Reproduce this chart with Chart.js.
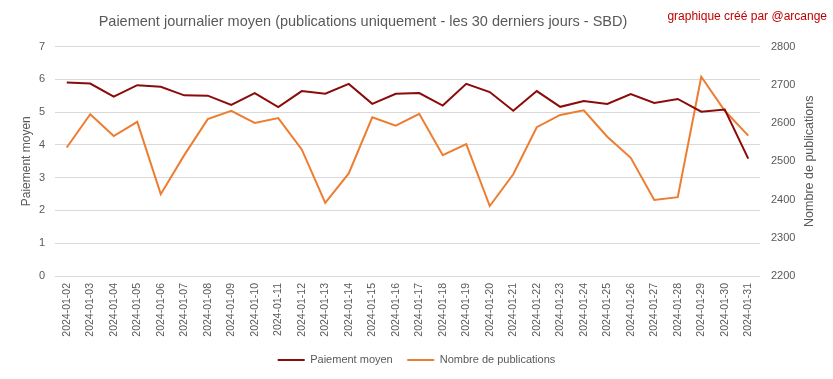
<!DOCTYPE html>
<html>
<head>
<meta charset="utf-8">
<script src="https://cdn.jsdelivr.net/npm/chart.js@4/dist/chart.umd.min.js"></script>
<style>
  html, body { margin:0; padding:0; background:#fff; }
  #wrap { position:relative; width:833px; height:379px; }
  #title { position:absolute; left:0; width:726px; top:13px; text-align:center;
           font-family:"Liberation Sans", Arial, sans-serif; font-size:14.5px; color:#595959; }
  #credit { position:absolute; right:6px; top:9px;
           font-family:"Liberation Sans", Arial, sans-serif; font-size:12px; color:#C00000; }
</style>
</head>
<body>
<div id="wrap">
  <canvas id="c" width="833" height="379"></canvas>
  <div id="title">Paiement journalier moyen (publications uniquement - les 30 derniers jours - SBD)</div>
  <div id="credit">graphique créé par @arcange</div>
</div>
<script>
const categories = ["2024-01-02","2024-01-03","2024-01-04","2024-01-05","2024-01-06","2024-01-07","2024-01-08","2024-01-09","2024-01-10","2024-01-11","2024-01-12","2024-01-13","2024-01-14","2024-01-15","2024-01-16","2024-01-17","2024-01-18","2024-01-19","2024-01-20","2024-01-21","2024-01-22","2024-01-23","2024-01-24","2024-01-25","2024-01-26","2024-01-27","2024-01-28","2024-01-29","2024-01-30","2024-01-31"];
const paiementMoyen = [5.90,5.87,5.47,5.82,5.77,5.51,5.50,5.22,5.58,5.15,5.64,5.56,5.86,5.25,5.56,5.58,5.20,5.86,5.61,5.04,5.64,5.16,5.34,5.25,5.55,5.28,5.40,5.01,5.08,3.58];
const nombrePublications = [2536,2623,2566,2603,2414,2516,2610,2632,2600,2613,2531,2391,2468,2615,2593,2624,2516,2545,2383,2466,2589,2621,2633,2564,2509,2399,2406,2721,2632,2567];
const leftTicks = {min:0, max:7, step:1};
const rightTicks = {min:2200, max:2800, step:100};
const rightTitle = 'Nombre de publications';

const FONT = "'Liberation Sans', Arial, sans-serif";
const GRAY = "#595959";

const rightTitlePlugin = {
  id: 'rightTitle',
  afterDraw(chart) {
    const ctx = chart.ctx;
    const a = chart.chartArea;
    ctx.save();
    ctx.translate(810, (a.top + a.bottom) / 2);
    ctx.rotate(-Math.PI / 2);
    ctx.font = "12.5px " + FONT;
    ctx.fillStyle = GRAY;
    ctx.textAlign = 'center';
    ctx.textBaseline = 'middle';
    ctx.fillText(rightTitle, 0, 0);
    ctx.restore();
  }
};

new Chart(document.getElementById('c'), {
  type: 'line',
  data: {
    labels: categories,
    datasets: [
      { label: 'Paiement moyen', data: paiementMoyen, yAxisID: 'y',
        borderColor: '#8B0A0A', backgroundColor: '#8B0A0A', borderWidth: 2,
        pointRadius: 0, tension: 0 },
      { label: 'Nombre de publications', data: nombrePublications, yAxisID: 'y1',
        borderColor: '#ED7D31', backgroundColor: '#ED7D31', borderWidth: 2,
        pointRadius: 0, tension: 0 }
    ]
  },
  plugins: [rightTitlePlugin],
  options: {
    responsive: false,
    animation: false,
    devicePixelRatio: 1,
    layout: { padding: { top: 46.5, bottom: 3.5, left: 0, right: 0 } },
    plugins: {
      title: { display: false },
      tooltip: { enabled: false },
      legend: {
        position: 'bottom',
        labels: {
          usePointStyle: true, pointStyle: 'line', pointStyleWidth: 27,
          boxHeight: 2, padding: 14.5,
          font: { family: FONT, size: 11 }, color: GRAY
        }
      }
    },
    scales: {
      x: {
        type: 'category', offset: true,
        grid: { display: false, drawTicks: false },
        border: { display: false },
        ticks: { minRotation: 90, maxRotation: 90, autoSkip: false, padding: 7,
                 font: { family: FONT, size: 10.5 }, color: GRAY },
        afterFit: (s) => { s.height = 64; }
      },
      y: {
        position: 'left', min: leftTicks.min, max: leftTicks.max,
        ticks: { stepSize: leftTicks.step, padding: 10, font: { family: FONT, size: 11 }, color: GRAY },
        grid: { color: '#D9D9D9', lineWidth: 1, drawTicks: false },
        border: { display: false },
        title: { display: true, text: 'Paiement moyen', font: { family: FONT, size: 12 }, color: GRAY,
                 padding: { top: 19, bottom: 0 } },
        afterFit: (s) => { s.width = 55; }
      },
      y1: {
        position: 'right', min: rightTicks.min, max: rightTicks.max,
        ticks: { stepSize: rightTicks.step, padding: 11, font: { family: FONT, size: 11 }, color: GRAY,
                 callback: (v) => String(v) },
        grid: { display: false, drawTicks: false },
        border: { display: false },
        title: { display: false },
        afterFit: (s) => { s.width = 73; }
      }
    }
  }
});
</script>
</body>
</html>
